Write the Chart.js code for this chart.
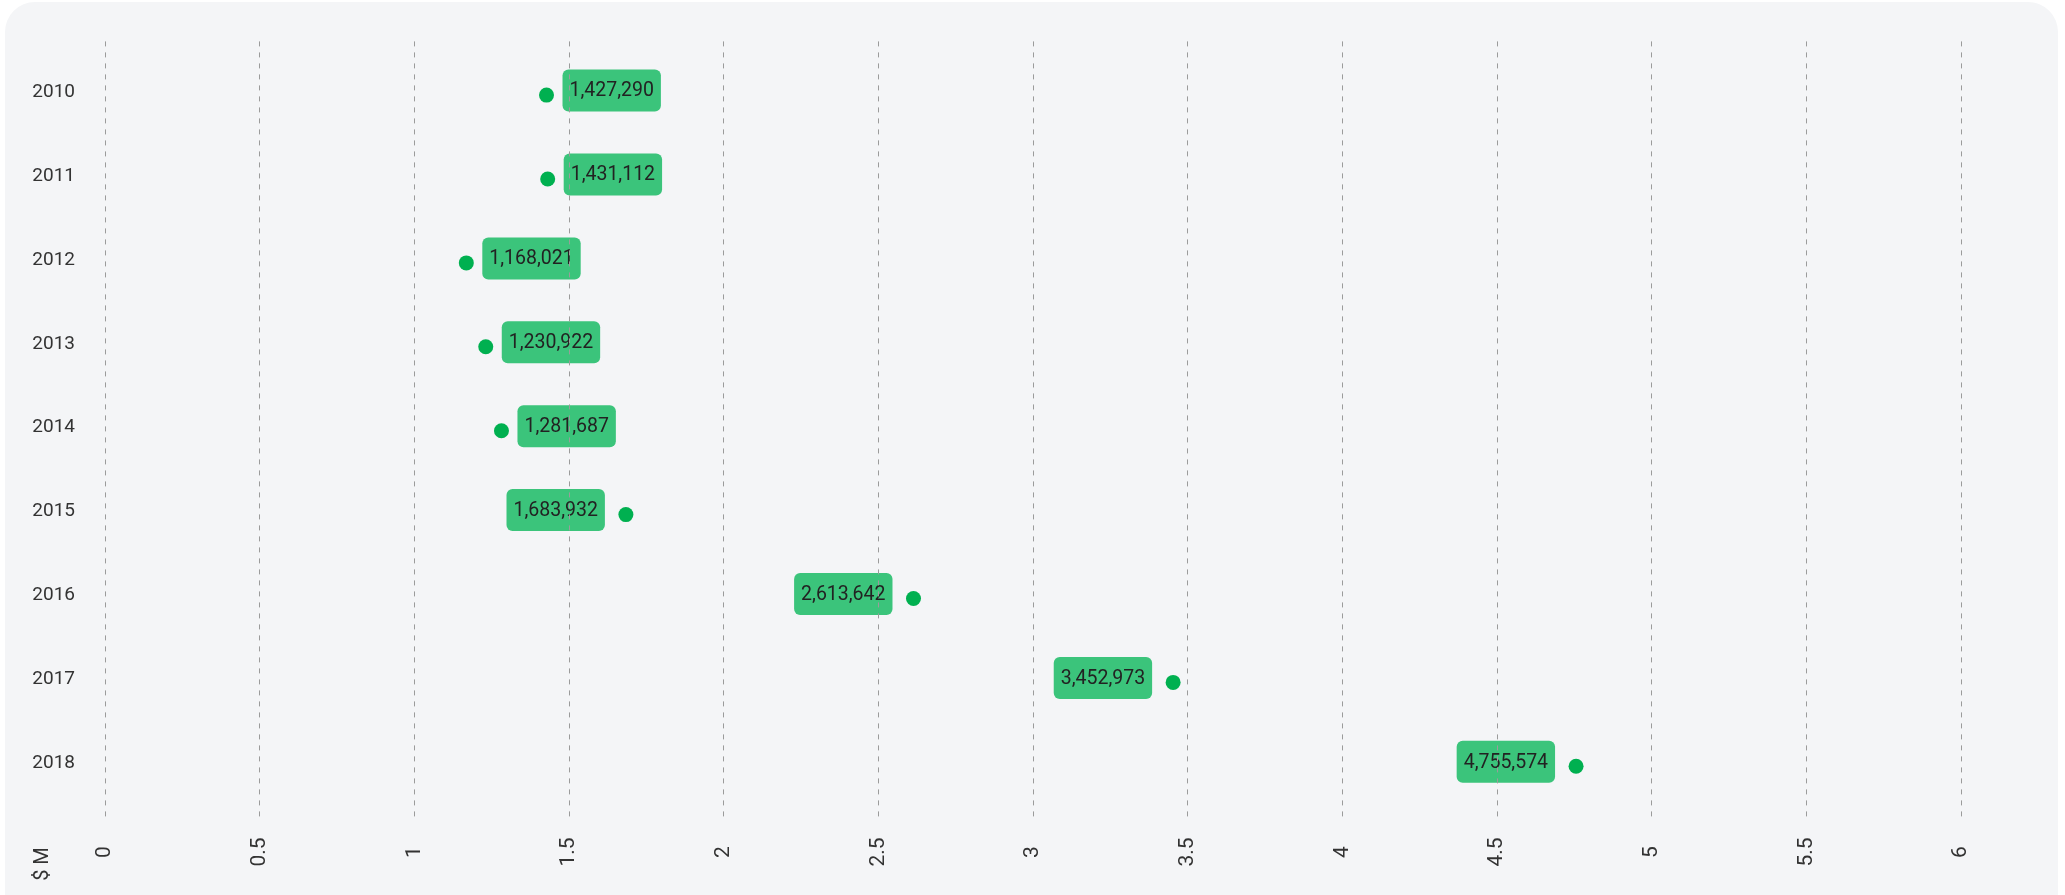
<!DOCTYPE html>
<html>
<head>
<meta charset="utf-8">
<title>Revenue by year</title>
<script src="https://cdn.jsdelivr.net/npm/chart.js@4.4.1/dist/chart.umd.min.js"></script>
<style>
  html, body { margin: 0; padding: 0; background: #fff; }
  body { width: 2065px; height: 895px; position: relative; overflow: hidden; }
  #card {
    position: absolute; left: 5px; top: 2px; width: 2053px; height: 940px;
    background: #f4f5f7; border-radius: 30px;
  }
  #wrap { position: absolute; left: 0; top: 0; width: 2065px; height: 895px; }
</style>
</head>
<body>
<div id="card"></div>
<div id="wrap"><canvas id="chart"></canvas></div>
<script>
// data
const years = ["2010", "2011", "2012", "2013", "2014", "2015", "2016", "2017", "2018"];
const revenue = [1427290, 1431112, 1168021, 1230922, 1281687, 1683932, 2613642, 3452973, 4755574];
const xTicks = [0, 0.5, 1, 1.5, 2, 2.5, 3, 3.5, 4, 4.5, 5, 5.5, 6];
const unitLabel = "$ M";

const FONT = "Roboto, 'Noto Sans', sans-serif";
const TEXT = "#333333";

const points = revenue.map((v, i) => ({ x: v / 1e6, y: i }));

// value badges go under the grid (beforeDraw) so the dashed lines cross them
const valueBadges = {
    id: "valueBadges",
    beforeDraw(chart) {
        const ctx = chart.ctx;
        const meta = chart.getDatasetMeta(0);
        ctx.save();
        ctx.font = "19.5px " + FONT;
        meta.data.forEach((pt, i) => {
            const text = revenue[i].toLocaleString("en-US");
            const w = ctx.measureText(text).width + 14;
            const h = 42;
            const onLeft = revenue[i] > 1500000;
            const x = onLeft ? pt.x - 21 - w : pt.x + 16;
            const y = pt.y - 4.5 - h / 2;
            ctx.fillStyle = "#3bc47b";
            ctx.beginPath();
            ctx.roundRect(x, y, w, h, 6);
            ctx.fill();
            ctx.fillStyle = "#222222";
            ctx.textAlign = "center";
            ctx.textBaseline = "middle";
            ctx.fillText(text, x + w / 2, y + h / 2 + 1);
        });
        ctx.restore();
    },
    afterDraw(chart) {
        // rotated x tick labels centred on one line, plus the unit label
        const ctx = chart.ctx;
        const xs = chart.scales.x;
        ctx.save();
        ctx.font = "21px " + FONT;
        ctx.fillStyle = TEXT;
        ctx.textAlign = "center";
        ctx.textBaseline = "middle";
        xTicks.forEach((t) => {
            ctx.save();
            ctx.translate(xs.getPixelForValue(t), 852);
            ctx.rotate(-Math.PI / 2);
            ctx.fillText(String(t), 0, 0);
            ctx.restore();
        });
        ctx.translate(43, 864);
        ctx.rotate(-Math.PI / 2);
        ctx.font = "20px " + FONT;
        ctx.fillText(unitLabel, 0, 0);
        ctx.restore();
    },
};

new Chart(document.getElementById("chart"), {
    type: "scatter",
    data: {
        datasets: [{
            data: points,
            pointRadius: 7.5,
            pointHoverRadius: 7.5,
            pointBackgroundColor: "#00b050",
            pointBorderWidth: 0,
            showLine: false,
        }],
    },
    options: {
        responsive: true,
        maintainAspectRatio: false,
        animation: false,
        layout: { padding: { top: 40, right: 104, bottom: 0, left: 0 } },
        plugins: {
            legend: { display: false },
            tooltip: { enabled: false },
        },
        scales: {
            x: {
                type: "linear",
                min: 0,
                max: 6,
                afterBuildTicks: (scale) => {
                    scale.ticks = xTicks.map((v) => ({ value: v }));
                },
                afterFit: (scale) => { scale.height = 75; },
                ticks: { display: false },
                grid: { color: "#9b9b9b", lineWidth: 1, drawTicks: false },
                border: { display: false, dash: [5, 6] },
            },
            y: {
                type: "linear",
                reverse: true,
                min: -0.64,
                max: 8.64,
                afterBuildTicks: (scale) => {
                    scale.ticks = years.map((_, i) => ({ value: i }));
                },
                afterFit: (scale) => { scale.width = 105; },
                ticks: {
                    callback: (v) => years[v] ?? "",
                    color: TEXT,
                    padding: 30,
                    labelOffset: -3,
                    font: { family: FONT, size: 19 },
                },
                grid: { display: false, drawTicks: false },
                border: { display: false },
            },
        },
    },
    plugins: [valueBadges],
});
</script>
</body>
</html>
